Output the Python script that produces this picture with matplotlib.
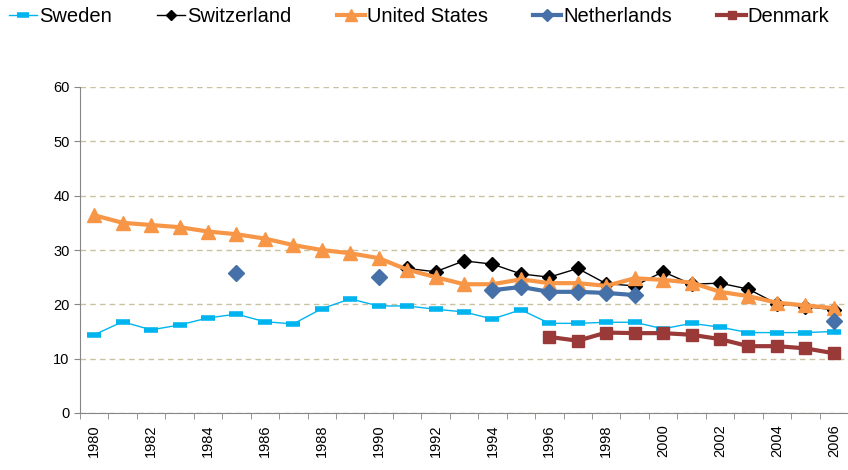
import numpy as np
import matplotlib
matplotlib.use("Agg")
import matplotlib.pyplot as plt

plt.rcParams['font.family'] = ['Liberation Sans', 'DejaVu Sans']

nan = np.nan
years = list(range(1980, 2007))

sweden = [14.4, 16.8, 15.3, 16.2, 17.5, 18.2, 16.8, 16.4, 19.2, 21.0,
          19.7, 19.7, 19.1, 18.6, 17.3, 19.0, 16.5, 16.5, 16.7, 16.7,
          15.5, 16.5, 15.8, 14.8, 14.8, 14.8, 15.0]
switzerland = [nan] * 11 + [26.6, 26.0, 28.0, 27.4, 25.6, 25.0, 26.6, 23.8, 23.4,
                            26.0, 23.7, 23.9, 22.8, 20.1, 19.6, 19.0]
united_states = [36.4, 35.0, 34.6, 34.2, 33.4, 32.9, 32.1, 30.9, 30.0, 29.4,
                 28.5, 26.4, 25.0, 23.7, 23.7, 24.6, 23.9, 23.9, 23.4, 24.8,
                 24.5, 24.0, 22.3, 21.5, 20.3, 19.8, 19.3]
netherlands = [nan] * 5 + [25.7] + [nan] * 4 + [25.1] + [nan] * 3 + \
              [22.6, 23.2, 22.3, 22.3, 22.1, 21.7] + [nan] * 6 + [16.9]
denmark = [nan] * 16 + [14.0, 13.3, 14.8, 14.7, 14.7, 14.4, 13.6, 12.3, 12.3, 11.9, 11.0]

fig = plt.figure(figsize=(8.48, 4.70), dpi=100)
ax = fig.add_axes([80 / 848, 57 / 470, 1 - 80 / 848, 326 / 470])

ax.plot(years, sweden, color='#00b4ef', lw=1, marker='_', ms=10, mew=4, label='Sweden')
ax.plot(years, switzerland, color='black', lw=1, marker='D', ms=7, label='Switzerland')
ax.plot(years, united_states, color='#f79646', lw=3, marker='^', ms=10, label='United States')
ax.plot(years, netherlands, color='#4570a8', lw=3, marker='D', ms=8, label='Netherlands')
ax.plot(years, denmark, color='#993a38', lw=3, marker='s', ms=8, label='Denmark')

ax.set_ylim(0, 60)
ax.set_xlim(1979.5, 1979.5 + 768 / 28.73)
ax.set_yticks(range(0, 61, 10))
ax.set_xticks(range(1980, 2007, 2))
ax.set_xticks(np.arange(1979.5, 2007, 1), minor=True)
ax.tick_params(axis='x', which='major', length=0, rotation=90, labelsize=10.5, pad=8)
ax.tick_params(axis='x', which='minor', length=4, direction='out', color='#868686')
ax.tick_params(axis='y', length=4, direction='out', labelsize=10.5, color='#868686')
ax.grid(axis='y', color='#c9c2a0', linestyle=(0, (4, 3)), lw=1)
ax.set_axisbelow(True)
for s in ['top', 'right']:
    ax.spines[s].set_visible(False)
for s in ['left', 'bottom']:
    ax.spines[s].set_color('#868686')

fig.legend(loc='upper left', bbox_to_anchor=(0.003, 0.998), ncol=5, frameon=False,
           fontsize=14.5, handlelength=1.4, handletextpad=0.1, columnspacing=2.25,
           markerscale=0.8, borderaxespad=0.0, borderpad=0.3)

fig.savefig('out.png', dpi=100)
